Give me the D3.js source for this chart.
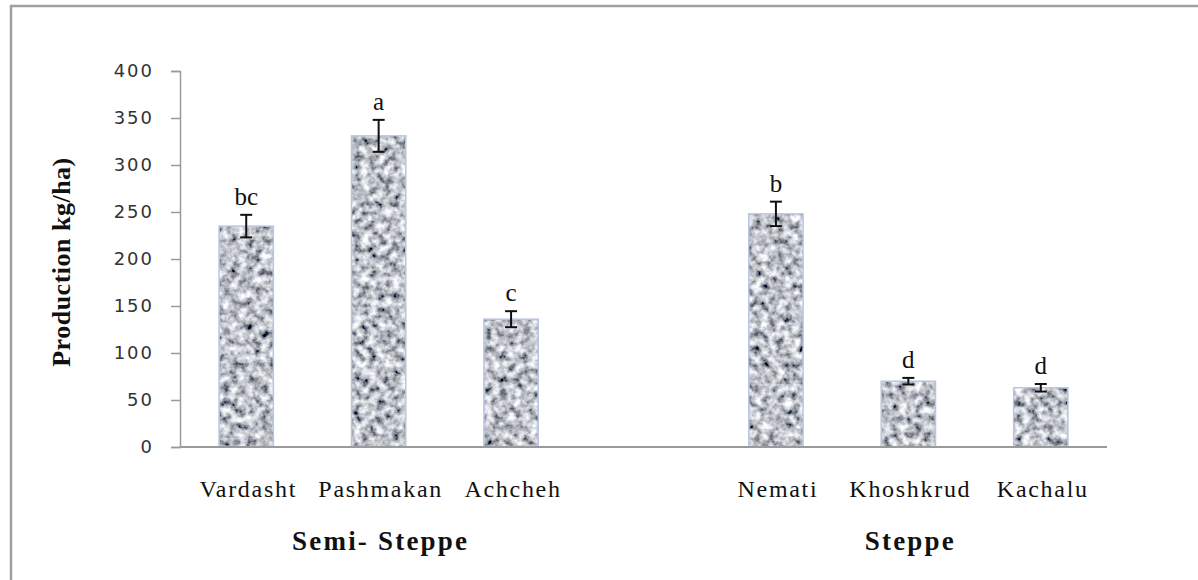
<!DOCTYPE html>
<html>
<head>
<meta charset="utf-8">
<script src="https://cdn.jsdelivr.net/npm/d3@7"></script>
<style>
  body { margin: 0; background: #fff; }
  svg { display: block; }
</style>
</head>
<body>
<script>
// data
const slots = ["Vardasht", "Pashmakan", "Achcheh", "", "Nemati", "Khoshkrud", "Kachalu"];
const sites = ["Vardasht", "Pashmakan", "Achcheh", "Nemati", "Khoshkrud", "Kachalu"];
const production = [235, 331, 136, 248, 70, 63];
const errors = [12, 17, 8.5, 13, 3.5, 4];
const letters = ["bc", "a", "c", "b", "d", "d"];
const groups = [
  {name: "Semi- Steppe", from: "Vardasht", to: "Achcheh"},
  {name: "Steppe", from: "Nemati", to: "Kachalu"}
];
const yTicks = [0, 50, 100, 150, 200, 250, 300, 350, 400];

const W = 1198, H = 580;
const svg = d3.select("body").append("svg").attr("width", W).attr("height", H);

// granite-ish texture for the bars
const defs = svg.append("defs");
const f = defs.append("filter").attr("id", "granite")
  .attr("x", 0).attr("y", 0).attr("width", 1).attr("height", 1);
f.append("feTurbulence").attr("type", "fractalNoise")
  .attr("baseFrequency", 0.13).attr("numOctaves", 3).attr("seed", 7).attr("result", "noise");
f.append("feColorMatrix").attr("in", "noise").attr("type", "matrix")
  .attr("values", "1.7 0 0 0 -0.33  1.7 0 0 0 -0.31  1.7 0 0 0 -0.27  0 0 0 0 1")
  .attr("result", "grey");
f.append("feGaussianBlur").attr("in", "grey").attr("stdDeviation", 0.6).attr("result", "soft");
f.append("feComposite").attr("in", "soft").attr("in2", "SourceGraphic").attr("operator", "in");

// outer frame
svg.append("rect").attr("x", 11).attr("y", 6).attr("width", 1200).attr("height", 600)
  .attr("fill", "none").attr("stroke", "#a0a0a0").attr("stroke-width", 2.5);

const x = d3.scaleBand().domain(slots.map((d, i) => i)).range([180, 1107]).paddingInner(0.59).paddingOuter(0.295);
const y = d3.scaleLinear().domain([0, 400]).range([447, 71]);

const rows = sites.map((s, i) => ({site: s, v: production[i], e: errors[i], l: letters[i], slot: slots.indexOf(s)}));
const serif = "'Liberation Serif', 'DejaVu Serif', serif";

// y axis
const yAxis = svg.append("g").attr("transform", "translate(180,0)")
  .call(d3.axisLeft(y).tickValues(yTicks).tickSize(9).tickPadding(17));
yAxis.select(".domain").attr("stroke", "#9a9a9a").attr("stroke-width", 1.5);
yAxis.selectAll(".tick line").attr("stroke", "#9a9a9a").attr("stroke-width", 1.5);
yAxis.selectAll(".tick text").attr("fill", "#333").style("font-family", "Verdana, 'DejaVu Sans', sans-serif")
  .style("font-size", "18px").attr("letter-spacing", "2");

// bars
svg.selectAll("rect.bar").data(rows).enter().append("rect").attr("class", "bar")
  .attr("x", d => x(d.slot)).attr("width", x.bandwidth())
  .attr("y", d => y(d.v)).attr("height", d => y(0) - y(d.v))
  .attr("fill", "#999").attr("filter", "url(#granite)");
svg.selectAll("rect.edge").data(rows).enter().append("rect").attr("class", "edge")
  .attr("x", d => x(d.slot)).attr("width", x.bandwidth())
  .attr("y", d => y(d.v)).attr("height", d => y(0) - y(d.v))
  .attr("fill", "none").attr("stroke", "#b9c6e0").attr("stroke-width", 1.5);

// x axis line
svg.append("line").attr("x1", 180).attr("x2", 1107).attr("y1", y(0)).attr("y2", y(0))
  .attr("stroke", "#9a9a9a").attr("stroke-width", 2);

// error bars
const eb = svg.selectAll("g.err").data(rows).enter().append("g").attr("class", "err")
  .attr("stroke", "#111").attr("stroke-width", 2);
const cx = d => x(d.slot) + x.bandwidth() / 2;
eb.append("line").attr("x1", cx).attr("x2", cx)
  .attr("y1", d => y(d.v + d.e)).attr("y2", d => y(d.v - d.e));
eb.append("line").attr("x1", d => cx(d) - 6).attr("x2", d => cx(d) + 6)
  .attr("y1", d => y(d.v + d.e)).attr("y2", d => y(d.v + d.e));
eb.append("line").attr("x1", d => cx(d) - 6).attr("x2", d => cx(d) + 6)
  .attr("y1", d => y(d.v - d.e)).attr("y2", d => y(d.v - d.e));

// significance letters
svg.selectAll("text.letter").data(rows).enter().append("text").attr("class", "letter")
  .attr("x", cx).attr("y", d => y(d.v + d.e) - 10)
  .attr("text-anchor", "middle").attr("fill", "#111")
  .style("font-family", serif).style("font-size", "25px")
  .text(d => d.l);

// category labels
svg.selectAll("text.cat").data(rows).enter().append("text").attr("class", "cat")
  .attr("x", d => cx(d) + 2).attr("y", 497)
  .attr("text-anchor", "middle").attr("fill", "#111").attr("letter-spacing", "1.7")
  .style("font-family", serif).style("font-size", "24px")
  .text(d => d.site);

// group labels
svg.selectAll("text.grp").data(groups).enter().append("text").attr("class", "grp")
  .attr("x", d => (x(slots.indexOf(d.from)) + x(slots.indexOf(d.to)) + x.bandwidth()) / 2 + 2)
  .attr("y", 550).attr("text-anchor", "middle").attr("fill", "#111").attr("letter-spacing", "2.2")
  .style("font-family", serif).style("font-size", "27px")
  .style("font-weight", "bold").text(d => d.name);

// y title
svg.append("text").attr("transform", "translate(70,262) rotate(-90)")
  .attr("text-anchor", "middle").attr("fill", "#111").attr("letter-spacing", "0.5")
  .style("font-family", serif).style("font-size", "26px")
  .style("font-weight", "bold").text("Production kg/ha)");
</script>
</body>
</html>
